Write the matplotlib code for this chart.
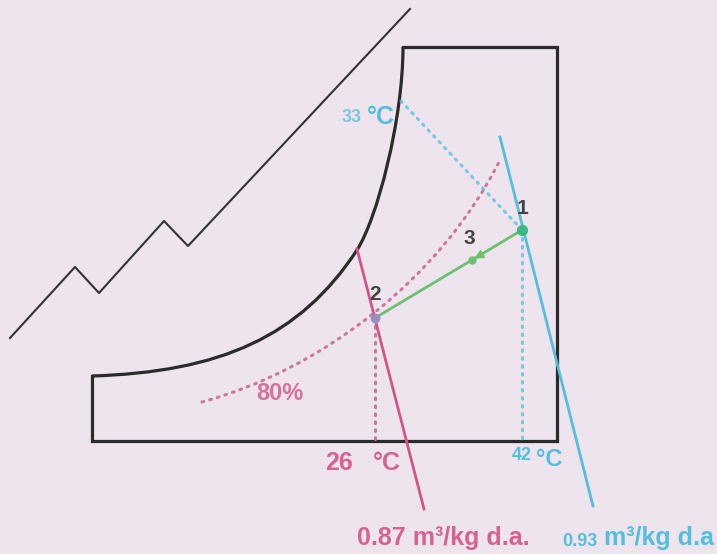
import matplotlib.pyplot as plt
from matplotlib.path import Path
from matplotlib.patches import PathPatch

# diagram coordinates (pixels of the original sketch, y down)
zigzag_x = [10, 75, 99, 164, 188, 410]
zigzag_y = [338, 267, 293, 221, 246, 9]

# chart outline: saturation curve (two bezier pieces) + box
sat_curve = [(92, 376), (220, 372), (300, 337), (357, 250),
             (377, 219), (403, 120), (403, 47)]
box_x = [403, 557, 557, 92, 92]
box_y = [47, 47, 441, 441, 376]

# 80 % relative humidity curve (bezier)
rh80_curve = [(202, 402), (320, 370), (440, 280), (500, 160)]

# states
p1 = (522, 230)
p2 = (375, 318)
p3 = (472, 260)
t33 = (401, 101)
bottom_y = 439

# specific volume lines
v087_x = [357, 424]
v087_y = [249, 509]
v093_x = [500, 593]
v093_y = [137, 506]

bg = '#ede4ee'
blue = '#55bedb'
pink = '#d2558a'
pink_dot = '#c97a99'
green = '#6cc070'
dark = '#2b2b2b'
dots = (0, (0.6, 2.0))

fig = plt.figure(figsize=(7.17, 5.54), dpi=100)
fig.patch.set_facecolor(bg)
ax = fig.add_axes([0, 0, 1, 1])
ax.set_facecolor(bg)
ax.set_xlim(0, 717)
ax.set_ylim(554, 0)
ax.axis('off')

ax.plot(zigzag_x, zigzag_y, color='#333333', lw=1.5)

codes = [Path.MOVETO] + [Path.CURVE4] * 6
ax.add_patch(PathPatch(Path(sat_curve, codes), fill=False, color=dark, lw=2.3))
ax.plot(box_x, box_y, color=dark, lw=2.3, solid_joinstyle='miter')

rh = Path(rh80_curve, [Path.MOVETO, Path.CURVE4, Path.CURVE4, Path.CURVE4])
ax.add_patch(PathPatch(rh, fill=False, color=pink_dot, lw=2.2,
                       linestyle=dots, capstyle='round'))

# dotted guides
ax.plot([t33[0], p1[0]], [t33[1], p1[1]], color=blue, lw=2.2,
        linestyle=dots, dash_capstyle='round', alpha=0.75)
ax.plot([p1[0], p1[0]], [p1[1], bottom_y], color=blue, lw=2.2,
        linestyle=dots, dash_capstyle='round', alpha=0.75)
ax.plot([p2[0], p2[0]], [p2[1], bottom_y], color=pink_dot, lw=2.2,
        linestyle=dots, dash_capstyle='round')

# volume lines
ax.plot(v087_x, v087_y, color=pink, lw=2.0)
ax.plot(v093_x, v093_y, color=blue, lw=2.0)

# process 1 -> 2
ax.plot([p1[0], p2[0]], [p1[1], p2[1]], color=green, lw=2.0)
ax.annotate('', xy=(p3[0], p3[1]), xytext=(p3[0] + 14, p3[1] - 8),
            arrowprops=dict(arrowstyle='-|>', color=green, lw=1.5, mutation_scale=12))
ax.plot(*p3, 'o', color=green, ms=5)
ax.plot(*p1, 'o', color='#3cb882', ms=7)
ax.plot(*p2, 'o', color='#9a8fb8', ms=6)

fp = dict(family='Liberation Sans', fontweight='bold')
ax.text(p1[0], 208, '1', color='#444444', fontsize=15, ha='center', va='center', **fp)
ax.text(p2[0], 295, '2', color='#444444', fontsize=15, ha='center', va='center', **fp)
ax.text(469, 239, '3', color='#444444', fontsize=15, ha='center', va='center', **fp)

ax.text(362, 118, '33', color=blue, fontsize=13, ha='right', va='center', alpha=0.75, **fp)
ax.text(367, 117, '°C', color=blue, fontsize=18, ha='left', va='center', **fp)
ax.text(280, 394, '80%', color=pink, fontsize=17, ha='center', va='center', alpha=0.8, **fp)
ax.text(339, 463, '26', color=pink, fontsize=18, ha='center', va='center', alpha=0.9, **fp)
ax.text(373, 463, '°C', color=pink, fontsize=18, ha='left', va='center', alpha=0.9, **fp)
ax.text(522, 455, '42', color=blue, fontsize=13, ha='center', va='center', **fp)
ax.text(536, 460, '°C', color=blue, fontsize=17, ha='left', va='center', **fp)
ax.text(357, 538, '0.87 m³/kg d.a.', color=pink, fontsize=18, ha='left', va='center', alpha=0.9, **fp)
ax.text(562, 541, '0.93', color=blue, fontsize=13, ha='left', va='center', **fp)
ax.text(604, 538, 'm³/kg d.a', color=blue, fontsize=18, ha='left', va='center', **fp)

fig.savefig('out.png', dpi=100, facecolor=bg)
